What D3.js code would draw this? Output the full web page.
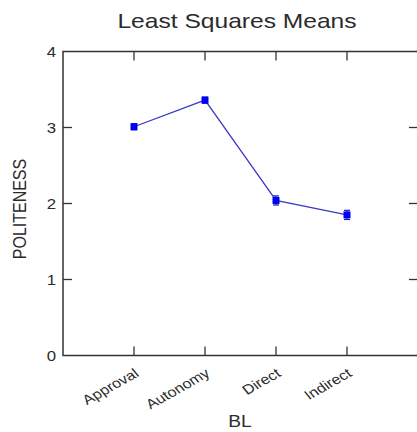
<!DOCTYPE html>
<html>
<head>
<meta charset="utf-8">
<script src="https://cdn.jsdelivr.net/npm/d3@7"></script>
<style>
  html, body { margin: 0; padding: 0; background: #fff; }
  svg { display: block; }
  text { font-family: "Liberation Sans", Arial, sans-serif; fill: #2b2b2b; }
</style>
</head>
<body>
<div id="chart"></div>
<script>
// Least squares means of POLITENESS by BL level, with standard-error bars
const categories = ["Approval", "Autonomy", "Direct", "Indirect"];
const lsMeans = [3.01, 3.36, 2.04, 1.85];
const stdErrors = [0.04, 0.04, 0.06, 0.06];
const yTicks = [0, 1, 2, 3, 4];

const width = 417, height = 432;
const frame = { left: 63, right: 418, top: 51.5, bottom: 355.5 };
const textStretch = 1.2; // glyphs are drawn horizontally widened

const svg = d3.select("#chart").append("svg")
  .attr("width", width).attr("height", height);

// categories sit at positions 1..4 on a 0..5 axis
const x = d3.scaleLinear().domain([0, categories.length + 1]).range([frame.left, frame.right]);
const y = d3.scaleLinear().domain([0, 4]).range([frame.bottom, frame.top]);
const xPos = i => x(i + 1);

const axisColor = "#333";
const tickLen = 9;

// frame
svg.append("rect")
  .attr("x", frame.left).attr("y", frame.top)
  .attr("width", frame.right - frame.left).attr("height", frame.bottom - frame.top)
  .attr("fill", "none").attr("stroke", axisColor).attr("stroke-width", 1.5);

// y ticks, inward on both sides
const yt = svg.append("g");
yTicks.forEach(v => {
  if (v > 0 && v < 4) {
    yt.append("line").attr("x1", frame.left).attr("x2", frame.left + tickLen)
      .attr("y1", y(v)).attr("y2", y(v)).attr("stroke", axisColor).attr("stroke-width", 1.3);
    yt.append("line").attr("x1", frame.right - tickLen).attr("x2", frame.right)
      .attr("y1", y(v)).attr("y2", y(v)).attr("stroke", axisColor).attr("stroke-width", 1.3);
  }
  yt.append("text")
    .attr("transform", `translate(${frame.left - 7},${y(v) + 5}) scale(${textStretch},1)`)
    .attr("text-anchor", "end").attr("font-size", 14).text(v);
});

// x ticks, inward on top and bottom
const xt = svg.append("g");
categories.forEach((c, i) => {
  xt.append("line").attr("x1", xPos(i)).attr("x2", xPos(i))
    .attr("y1", frame.bottom).attr("y2", frame.bottom - tickLen)
    .attr("stroke", axisColor).attr("stroke-width", 1.3);
  xt.append("line").attr("x1", xPos(i)).attr("x2", xPos(i))
    .attr("y1", frame.top).attr("y2", frame.top + tickLen)
    .attr("stroke", axisColor).attr("stroke-width", 1.3);
  xt.append("text")
    .attr("transform", `translate(${xPos(i) + 6},${frame.bottom + 20}) scale(${textStretch},1) rotate(-34)`)
    .attr("text-anchor", "end").attr("font-size", 13.5).text(c);
});

// standard-error bars
const eb = svg.append("g").attr("stroke", "#1a1ad0").attr("stroke-width", 1.2);
categories.forEach((c, i) => {
  const cx = xPos(i);
  eb.append("line").attr("x1", cx).attr("x2", cx)
    .attr("y1", y(lsMeans[i] - stdErrors[i])).attr("y2", y(lsMeans[i] + stdErrors[i]));
  [-1, 1].forEach(s => {
    eb.append("line").attr("x1", cx - 3).attr("x2", cx + 3)
      .attr("y1", y(lsMeans[i] + s * stdErrors[i])).attr("y2", y(lsMeans[i] + s * stdErrors[i]));
  });
});

// means line
const line = d3.line().x((d, i) => xPos(i)).y(d => y(d));
svg.append("path").datum(lsMeans)
  .attr("d", line).attr("fill", "none")
  .attr("stroke", "#3b3bc4").attr("stroke-width", 1.3);

// square markers
svg.append("g").selectAll("rect").data(lsMeans).join("rect")
  .attr("x", (d, i) => xPos(i) - 3.5).attr("y", d => y(d) - 3.5)
  .attr("width", 7).attr("height", 7)
  .attr("fill", "#0000f0");

// title
svg.append("text")
  .attr("transform", `translate(237,28) scale(${textStretch},1)`)
  .attr("text-anchor", "middle").attr("font-size", 20.5).attr("fill", "#222")
  .text("Least Squares Means");

// axis titles
svg.append("text")
  .attr("transform", `translate(240,427) scale(${textStretch},1)`)
  .attr("text-anchor", "middle").attr("font-size", 16).text("BL");

svg.append("text")
  .attr("transform", `translate(25.5,209) scale(${textStretch},1) rotate(-90)`)
  .attr("text-anchor", "middle").attr("font-size", 16).text("POLITENESS");
</script>
</body>
</html>
